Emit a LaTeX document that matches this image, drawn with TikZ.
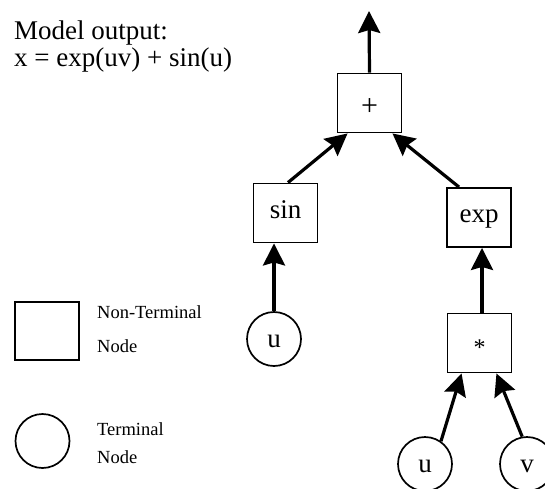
\documentclass[tikz,border=0pt]{standalone}
\usepackage{fontspec}
\setmainfont{Liberation Serif}
\usetikzlibrary{arrows.meta}
\begin{document}
\begin{tikzpicture}[x=1pt,y=-1pt,
  opbox/.style={draw, line width=1.9pt, minimum width=64pt, minimum height=59pt, inner sep=0pt,
    font=\fontsize{27}{27}\selectfont, text height=10pt, text depth=0pt},
  termnode/.style={draw, circle, line width=1.7pt, minimum size=54pt, inner sep=0pt,
    font=\fontsize{27}{27}\selectfont, text height=16pt, text depth=0pt},
  link/.style={line width=3.2pt, -{Stealth[length=22pt,width=22pt,inset=3pt]}},
  titletext/.style={anchor=base west, inner sep=0pt, font=\fontsize{27}{27}\selectfont},
  legendtext/.style={anchor=base west, inner sep=0pt, font=\fontsize{18.5}{18.5}\selectfont}]
\useasboundingbox (0,0) rectangle (545,488);

% title
\node[titletext] (t1) at (14,39) {Model output:};
\node[titletext] (t2) at (14,66) {x = exp(uv) + sin(u)};

% tree
\node[opbox, font=\fontsize{30}{30}\selectfont, text height=24pt] (plus) at (369.5,103) {+};
\node[opbox] (sin) at (285.5,213) {sin};
\node[opbox] (exp) at (479,217.5) {exp};
\node[opbox, font=\fontsize{24}{24}\selectfont, text height=24pt] (mul) at (479.5,343) {*};
\node[termnode] (u1) at (274,339) {u};
\node[termnode] (u2) at (425,464) {u};
\node[termnode] (v) at (527,464) {v};
\coordinate (out) at (369,11);

\draw[link] (plus.north) -- (out);
\draw[link] ([xshift=2.5pt]sin.north) -- ([xshift=11pt]plus.south west);
\draw[link] ([xshift=-20pt]exp.north) -- ([xshift=-10pt]plus.south east);
\draw[link] (u1.north) -- (u1.north |- sin.south);
\draw[link] ([xshift=2.5pt]mul.north) -- ([xshift=2.5pt]mul.north |- exp.south);
\draw[link] (u2.55) -- ([xshift=15pt]mul.south west);
\draw[link] (v.100) -- ([xshift=-16pt]mul.south east);

% legend
\node[draw, line width=1.9pt, minimum width=64pt, minimum height=58pt, inner sep=0pt] (legbox) at (47,331) {};
\node[legendtext] (lb1) at (97,318) {Non-Terminal};
\node[legendtext] (lb2) at (97,352) {Node};
\node[draw, circle, line width=1.7pt, minimum size=54pt, inner sep=0pt] (legcirc) at (42.5,441) {};
\node[legendtext] (lc1) at (97,435) {Terminal};
\node[legendtext] (lc2) at (97,463) {Node};
\end{tikzpicture}
\end{document}
